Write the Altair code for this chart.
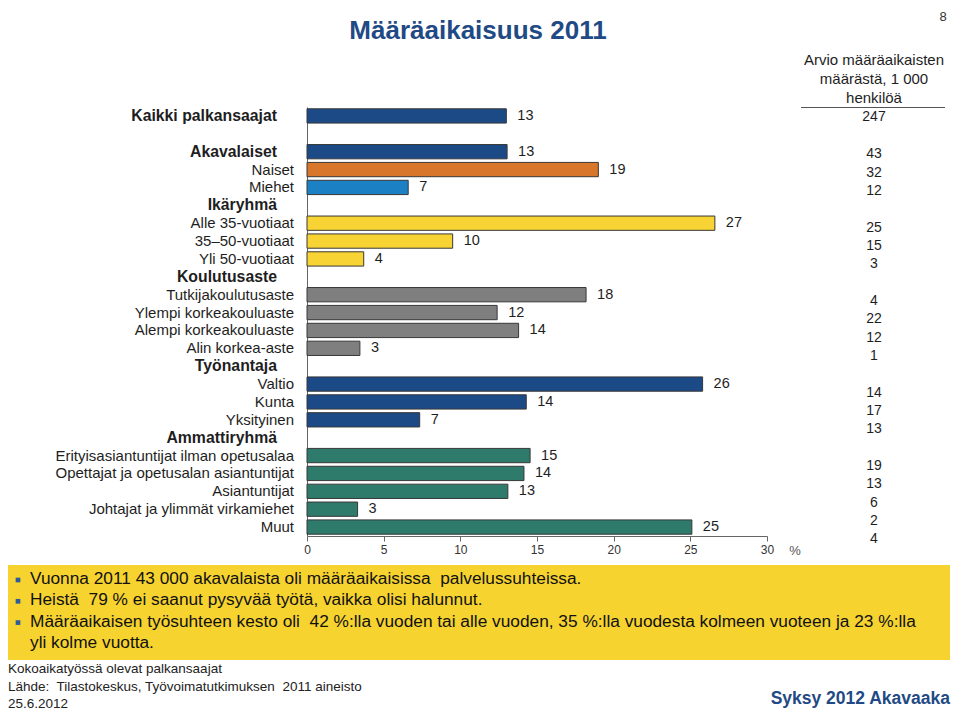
import altair as alt
import pandas as pd

# ---------------- data ----------------
title_text = "Määräaikaisuus 2011"
page_no = "8"

row_labels = [
    "Kaikki palkansaajat", "", "Akavalaiset", "Naiset", "Miehet",
    "Ikäryhmä", "Alle 35-vuotiaat", "35–50-vuotiaat", "Yli 50-vuotiaat",
    "Koulutusaste", "Tutkijakoulutusaste", "Ylempi korkeakouluaste",
    "Alempi korkeakouluaste", "Alin korkea-aste",
    "Työnantaja", "Valtio", "Kunta", "Yksityinen",
    "Ammattiryhmä", "Erityisasiantuntijat ilman opetusalaa",
    "Opettajat ja opetusalan asiantuntijat", "Asiantuntijat",
    "Johtajat ja ylimmät virkamiehet", "Muut",
]
is_bold = [True, False, True, False, False,
           True, False, False, False,
           True, False, False, False, False,
           True, False, False, False,
           True, False, False, False, False, False]
shares = [13.0, None, 13.05, 19.0, 6.6,
          None, 26.6, 9.5, 3.7,
          None, 18.2, 12.4, 13.8, 3.45,
          None, 25.8, 14.3, 7.35,
          None, 14.55, 14.15, 13.1, 3.3, 25.1]
share_labels = ["13", "", "13", "19", "7",
                "", "27", "10", "4",
                "", "18", "12", "14", "3",
                "", "26", "14", "7",
                "", "15", "14", "13", "3", "25"]
groups = ["Kaikki", "", "Akavalaiset", "Naiset", "Miehet",
          "", "Ikä", "Ikä", "Ikä",
          "", "Koulutus", "Koulutus", "Koulutus", "Koulutus",
          "", "Työnantaja", "Työnantaja", "Työnantaja",
          "", "Ammatti", "Ammatti", "Ammatti", "Ammatti", "Ammatti"]
counts = ["247", "", "43", "32", "12",
          "", "25", "15", "3",
          "", "4", "22", "12", "1",
          "", "14", "17", "13",
          "", "19", "13", "6", "2", "4"]

x_ticks = [0, 5, 10, 15, 20, 25, 30]
count_header = ["Arvio määräaikaisten", "määrästä, 1 000", "henkilöä"]
bullet_lines = [
    "Vuonna 2011 43 000 akavalaista oli määräaikaisissa\u00a0 palvelussuhteissa.",
    "Heistä\u00a0 79 % ei saanut pysyvää työtä, vaikka olisi halunnut.",
    "Määräaikaisen työsuhteen kesto oli\u00a0 42 %:lla vuoden tai alle vuoden, 35 %:lla vuodesta kolmeen vuoteen ja 23 %:lla",
    "yli kolme vuotta.",
]
bullet_count = 3
footer_lines = [
    "Kokoaikatyössä olevat palkansaajat",
    "Lähde:\u00a0 Tilastokeskus, Työvoimatutkimuksen\u00a0 2011 aineisto",
    "25.6.2012",
]
brand_text = "Syksy 2012 Akavaaka"

# ---------------- styles ----------------
group_domain = ["Kaikki", "Akavalaiset", "Naiset", "Miehet", "Ikä", "Koulutus", "Työnantaja", "Ammatti"]
group_colors = ["#1B4A87", "#1B4A87", "#D8762B", "#1C80C4", "#F7D433", "#7F7F7F", "#1B4A87", "#2E7A6B"]
FONT = "Liberation Sans"
DARKBLUE = "#1F4A85"
TXT = "#1E1E1E"

df = pd.DataFrame({
    "slot": list(range(len(row_labels))),
    "label": row_labels,
    "bold": is_bold,
    "share": shares,
    "slabel": share_labels,
    "group": groups,
    "count": counts,
})
bars_df = df[df["share"].notna()]

y_enc = alt.Y("slot:O",
              scale=alt.Scale(domain=list(range(len(row_labels))), paddingInner=0.2, paddingOuter=0.1),
              axis=alt.Axis(labels=False, ticks=False, title=None, domainColor="#666666", grid=False))
x_enc = alt.X("share:Q",
              scale=alt.Scale(domain=[0, 30], nice=False, zero=True),
              axis=alt.Axis(values=x_ticks, title=None, tickSize=5, labelFontSize=12,
                            labelColor="#333333", domainColor="#666666", tickColor="#666666",
                            labelPadding=3, grid=False, labelFont=FONT, labelFlush=False))

bars = alt.Chart(bars_df).mark_bar(stroke="#383838", strokeWidth=1).encode(
    x=x_enc, y=y_enc,
    color=alt.Color("group:N", scale=alt.Scale(domain=group_domain, range=group_colors), legend=None),
)
vlabels = alt.Chart(bars_df).mark_text(align="left", baseline="middle", dx=11, fontSize=14.5,
                                       font=FONT, color=TXT).encode(
    x=x_enc, y=y_enc, text="slabel:N")
cat_norm = alt.Chart(df[(~df["bold"]) & (df["label"] != "")]).mark_text(
    align="right", baseline="middle", fontSize=15, font=FONT, color=TXT).encode(
    x=alt.value(-13), y=y_enc, text="label:N")
cat_bold = alt.Chart(df[df["bold"]]).mark_text(
    align="right", baseline="middle", fontSize=15.8, font=FONT, fontWeight="bold", color=TXT).encode(
    x=alt.value(-30), y=y_enc, text="label:N")

main = alt.layer(bars, vlabels, cat_norm, cat_bold)

count_col = alt.Chart(df[df["count"] != ""]).mark_text(
    align="center", baseline="middle", fontSize=14, font=FONT, color=TXT).encode(
    x=alt.value(567),
    y=alt.Y("slot:Q", scale=alt.Scale(domain=[-0.572, 22.81], reverse=True, nice=False, zero=False), axis=None),
    text="count:N")

one = pd.DataFrame({"k": [0]})

title = alt.Chart(one).mark_text(text=title_text, fontSize=26, fontWeight="bold", font=FONT,
                                 color=DARKBLUE, align="center", baseline="middle").encode(
    x=alt.value(171), y=alt.value(-76))
page = alt.Chart(one).mark_text(text=page_no, fontSize=13, font=FONT, color="#333333",
                                align="center", baseline="top").encode(
    x=alt.value(636), y=alt.value(-96))
chead = alt.Chart(one).mark_text(text=count_header, fontSize=15, font=FONT, color=TXT,
                                 align="center", baseline="top", lineHeight=19).encode(
    x=alt.value(567), y=alt.value(-54))
cline = alt.Chart(one).mark_rule(color="#555555", strokeWidth=1).encode(
    x=alt.value(494), x2=alt.value(638), y=alt.value(0.5))
pct = alt.Chart(one).mark_text(text="%", fontSize=13, font=FONT, color="#555555",
                               align="center", baseline="middle").encode(
    x=alt.value(488), y=alt.value(444))

box = alt.Chart(one).mark_rect(color="#F7D330").encode(
    x=alt.value(-304), x2=alt.value(643), y=alt.value(458), y2=alt.value(553))
btext = alt.Chart(one).mark_text(text=bullet_lines, fontSize=17.3, font=FONT, color="#111111",
                                 align="left", baseline="top", lineHeight=21.3).encode(
    x=alt.value(-277), y=alt.value(463))
bullets = [
    alt.Chart(one).mark_square(size=22, color="#2C5C9A", opacity=1).encode(
        x=alt.value(-289), y=alt.value(473 + i * 21.3))
    for i in range(bullet_count)
]
footer = alt.Chart(one).mark_text(text=footer_lines, fontSize=13.5, font=FONT, color="#222222",
                                  align="left", baseline="top", lineHeight=17.5).encode(
    x=alt.value(-299), y=alt.value(555))
brand = alt.Chart(one).mark_text(text=brand_text, fontSize=17.5, fontWeight="bold", font=FONT,
                                 color=DARKBLUE, align="right", baseline="middle").encode(
    x=alt.value(643), y=alt.value(592))

chart = alt.layer(
    box, main, count_col, title, page, chead, cline, pct, btext, *bullets, footer, brand
).resolve_scale(y="independent").properties(
    width=460, height=429,
    padding={"left": 299, "top": 99, "right": 185, "bottom": 175},
    autosize=alt.AutoSizeParams(type="none"),
).configure_view(stroke=None)

chart.save("out.html", embed_options={"renderer": "svg", "actions": False})
